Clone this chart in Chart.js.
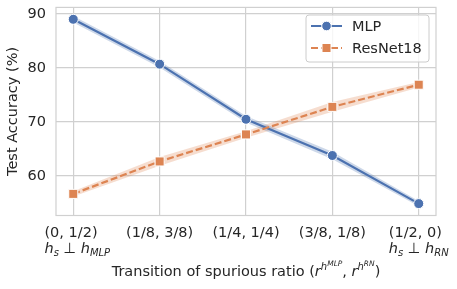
<!DOCTYPE html>
<html>
<head>
<meta charset="utf-8">
<script src="https://cdn.jsdelivr.net/npm/chart.js@4.4.1/dist/chart.umd.min.js"></script>
<style>
  html, body { margin: 0; padding: 0; background: #fff; }
  #wrap { width: 457px; height: 289px; }
</style>
</head>
<body>
<div id="wrap"><canvas id="grafico" width="457" height="289"></canvas></div>
<script>
// dati
const categories = ['(0, 1/2)', '(1/8, 3/8)', '(1/4, 1/4)', '(3/8, 1/8)', '(1/2, 0)'];
const mlp = [89.0, 80.7, 70.5, 63.8, 54.9];
const mlpErr = [0.6, 0.6, 0.6, 0.7, 0.5];
const resnet = [56.7, 62.7, 67.7, 72.8, 76.9];
const resnetErr = [0.5, 0.8, 0.6, 0.9, 0.5];
const yTicks = [60, 70, 80, 90];

const BLUE = '#4c72b0';
const ORANGE = '#dd8452';
const TEXT = '#262626';
const GRID = '#d0d0d0';
const FONT = "'DejaVu Sans', sans-serif";
const FS = 14.5;

const pts = (arr, off, sign) => arr.map((v, i) => ({ x: i, y: v + (off ? sign * off[i] : 0) }));

// helper per testo "matematico" (pedici/apici)
function runsWidth(ctx, runs) {
    let w = 0;
    runs.forEach(r => {
        ctx.font = (r.it ? 'italic ' : '') + r.size + 'px ' + FONT;
        w += ctx.measureText(r.t).width;
    });
    return w;
}
function drawRuns(ctx, runs, x, y) {
    runs.forEach(r => {
        ctx.font = (r.it ? 'italic ' : '') + r.size + 'px ' + FONT;
        ctx.fillText(r.t, x, y + (r.dy || 0));
        x += ctx.measureText(r.t).width;
    });
}

const sub = 10, sub2 = 7.5;
const line2 = {
    0: [{ t: 'h', size: FS, it: 1 }, { t: 's', size: sub, it: 1, dy: 3 }, { t: ' \u22A5 ', size: FS },
        { t: 'h', size: FS, it: 1 }, { t: 'MLP', size: sub, it: 1, dy: 3 }],
    4: [{ t: 'h', size: FS, it: 1 }, { t: 's', size: sub, it: 1, dy: 3 }, { t: ' \u22A5 ', size: FS },
        { t: 'h', size: FS, it: 1 }, { t: 'RN', size: sub, it: 1, dy: 3 }]
};
const xTitle = [
    { t: 'Transition of spurious ratio (', size: FS },
    { t: 'r', size: FS, it: 1 }, { t: 'h', size: sub, it: 1, dy: -6 }, { t: 'MLP', size: sub2, it: 1, dy: -10 },
    { t: ', ', size: FS },
    { t: 'r', size: FS, it: 1 }, { t: 'h', size: sub, it: 1, dy: -6 }, { t: 'RN', size: sub2, it: 1, dy: -10 },
    { t: ')', size: FS }
];

const extras = {
    id: 'extras',
    afterDraw(chart) {
        const ctx = chart.ctx;
        const a = chart.chartArea;
        const xs = chart.scales.x;
        ctx.save();
        // cornice
        ctx.strokeStyle = GRID;
        ctx.lineWidth = 1.2;
        ctx.strokeRect(a.left, a.top, a.right - a.left, a.bottom - a.top);

        // etichette asse x (prima riga + seconda riga con formula)
        ctx.fillStyle = TEXT;
        ctx.textBaseline = 'alphabetic';
        categories.forEach((c, i) => {
            const px = xs.getPixelForValue(i);
            ctx.font = FS + 'px ' + FONT;
            const w1 = ctx.measureText(c).width;
            if (line2[i]) {
                const w2 = runsWidth(ctx, line2[i]);
                const left = px - Math.max(w1, w2) / 2 + (i === 0 ? 4 : 0);
                ctx.font = FS + 'px ' + FONT;
                ctx.fillText(c, left, 237);
                drawRuns(ctx, line2[i], left, 253);
            } else {
                ctx.fillText(c, px - w1 / 2, 237);
            }
        });

        // titolo asse x
        const tw = runsWidth(ctx, xTitle);
        drawRuns(ctx, xTitle, (a.left + a.right) / 2 - tw / 2, 276);

        // legenda
        const lx = 306, ly = 15, lw = 123, lh = 47;
        ctx.fillStyle = 'rgba(255,255,255,0.8)';
        ctx.strokeStyle = '#cccccc';
        ctx.lineWidth = 1;
        ctx.beginPath();
        ctx.roundRect(lx, ly, lw, lh, 3);
        ctx.fill();
        ctx.stroke();
        const items = [
            { label: 'MLP', color: BLUE, dash: [], style: 'circle', y: 26 },
            { label: 'ResNet18', color: ORANGE, dash: [7, 3], style: 'rect', y: 48 }
        ];
        items.forEach(it => {
            ctx.strokeStyle = it.color;
            ctx.lineWidth = 2;
            ctx.setLineDash(it.dash);
            ctx.beginPath();
            ctx.moveTo(311, it.y);
            ctx.lineTo(342, it.y);
            ctx.stroke();
            ctx.setLineDash([]);
            ctx.fillStyle = it.color;
            ctx.strokeStyle = '#fff';
            ctx.lineWidth = 1;
            ctx.beginPath();
            if (it.style === 'circle') ctx.arc(326.5, it.y, 4.8, 0, Math.PI * 2);
            else ctx.rect(326.5 - 4.5, it.y - 4.5, 9, 9);
            ctx.fill();
            ctx.stroke();
            ctx.fillStyle = TEXT;
            ctx.font = FS + 'px ' + FONT;
            ctx.textBaseline = 'middle';
            ctx.fillText(it.label, 352, it.y + 1);
        });
        ctx.restore();
    }
};

const ctx = document.getElementById('grafico').getContext('2d');

new Chart(ctx, {
    type: 'line',
    data: {
        datasets: [
            { label: 'ResNet18', data: pts(resnet), borderColor: ORANGE, backgroundColor: ORANGE,
              borderWidth: 2.2, borderDash: [7, 3], pointStyle: 'rect', pointRadius: 6.4,
              pointBorderColor: '#fff', pointBorderWidth: 1, fill: false },
            { label: 'MLP', data: pts(mlp), borderColor: BLUE, backgroundColor: BLUE,
              borderWidth: 2.2, pointStyle: 'circle', pointRadius: 5,
              pointBorderColor: '#fff', pointBorderWidth: 1, fill: false },
            { data: pts(mlp, mlpErr, -1), borderWidth: 0, pointRadius: 0, fill: false },
            { data: pts(mlp, mlpErr, 1), borderWidth: 0, pointRadius: 0, fill: '-1',
              backgroundColor: 'rgba(76,114,176,0.28)' },
            { data: pts(resnet, resnetErr, -1), borderWidth: 0, pointRadius: 0, fill: false },
            { data: pts(resnet, resnetErr, 1), borderWidth: 0, pointRadius: 0, fill: '-1',
              backgroundColor: 'rgba(221,132,82,0.28)' }
        ]
    },
    options: {
        responsive: false,
        animation: false,
        events: [],
        layout: { padding: { left: 0, right: 21, top: 7, bottom: 0 } },
        plugins: { legend: { display: false }, tooltip: { enabled: false } },
        scales: {
            x: {
                type: 'linear', min: -0.2, max: 4.2,
                afterBuildTicks: s => { s.ticks = categories.map((c, i) => ({ value: i })); },
                afterFit: s => { s.height = 73.5; s.paddingLeft = 0; s.paddingRight = 0; },
                ticks: { display: false },
                grid: { color: GRID, lineWidth: 1.2, drawTicks: false },
                border: { display: false }
            },
            y: {
                min: 52.7, max: 91.2,
                afterBuildTicks: s => { s.ticks = yTicks.map(v => ({ value: v })); },
                afterFit: s => { s.width = 56; s.paddingTop = 0; s.paddingBottom = 0; },
                ticks: { color: TEXT, font: { family: FONT, size: FS }, padding: 10 },
                grid: { color: GRID, lineWidth: 1.2, drawTicks: false },
                border: { display: false },
                title: { display: true, text: 'Test Accuracy (%)', color: TEXT,
                         font: { family: FONT, size: FS }, padding: { top: 5, bottom: 0 } }
            }
        }
    },
    plugins: [extras]
});
</script>
</body>
</html>
